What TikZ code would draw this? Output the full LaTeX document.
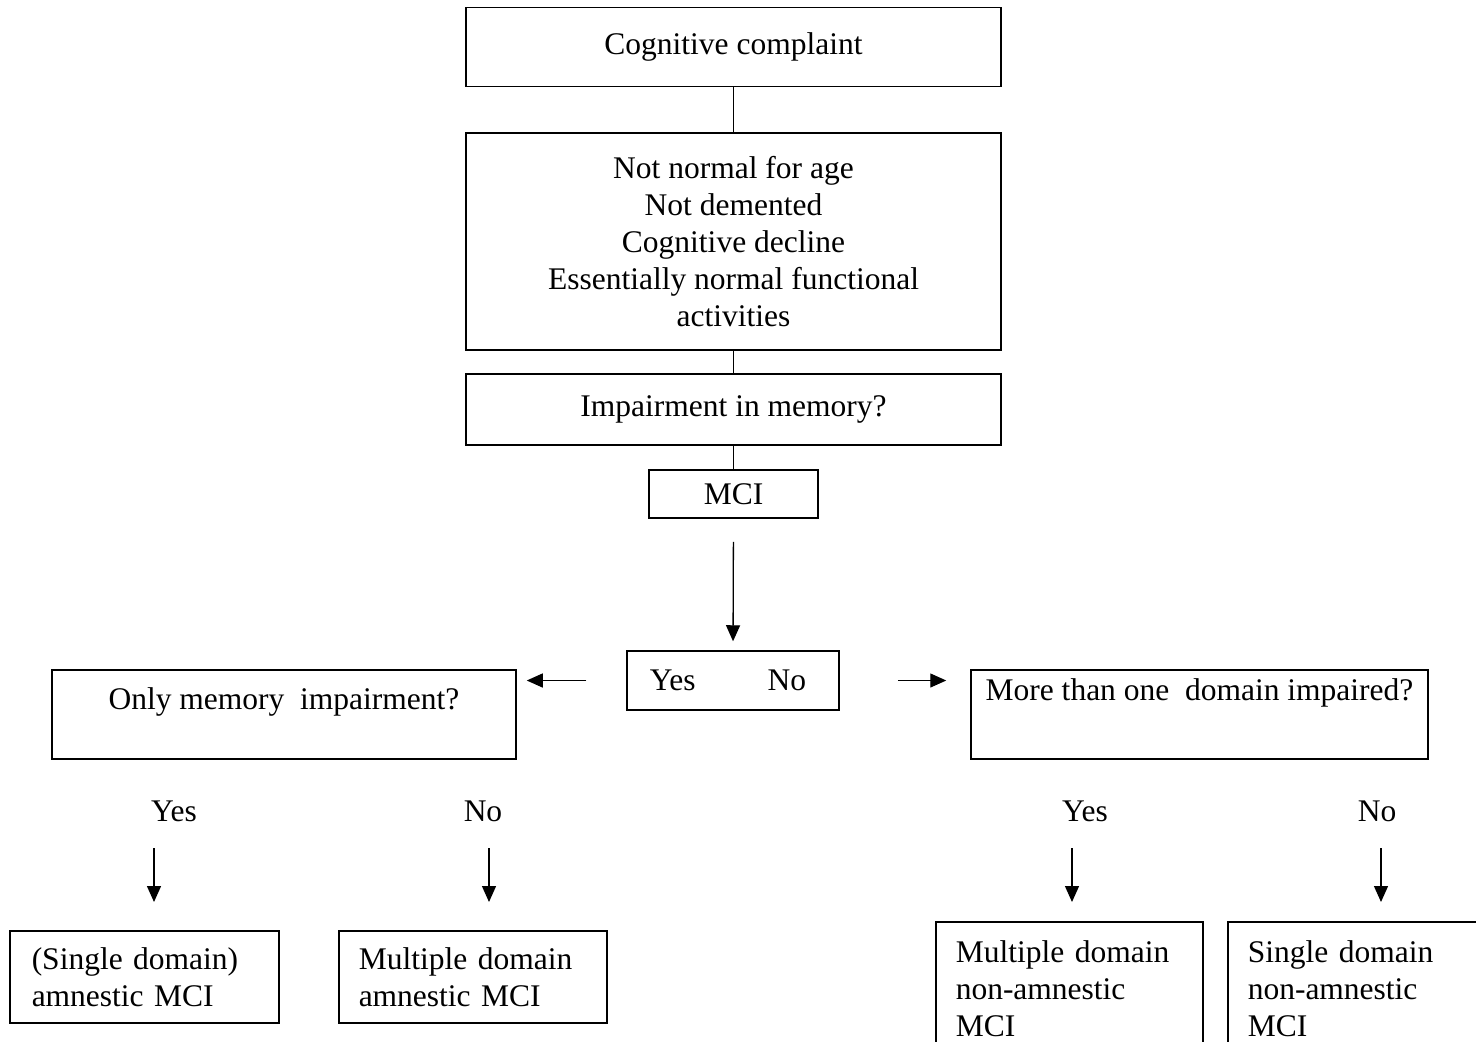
\documentclass[tikz,border=0pt]{standalone}
\usepackage{fontspec}
\setmainfont{Liberation Serif}
\usetikzlibrary{arrows.meta}
\begin{document}
\begin{tikzpicture}[x=1pt,y=-1pt,
  box/.style={draw, line width=1.5pt, inner sep=0pt, font=\fontsize{31.5}{37}\selectfont},
  lbl/.style={inner sep=0pt, font=\fontsize{31.5}{37}\selectfont},
  link/.style={line width=1.3pt},
  arr/.style={line width=1.3pt, -{Triangle[length=16pt,width=14pt]}}]
\useasboundingbox (0,0) rectangle (1476,1042);
\clip (0,0) rectangle (1476,1042);
% top chain
\node[box, minimum width=535, minimum height=79] (b1) at (733.5,47) {Cognitive complaint};
\node[box, minimum width=535, minimum height=217, align=center] (b2) at (733.5,241.5)
  {Not normal for age\\Not demented\\Cognitive decline\\Essentially normal functional\\activities};
\node[box, minimum width=535, minimum height=71] (b3) at (733.5,409.5) {Impairment in memory?};
\node[box, minimum width=169, minimum height=48] (mci) at (733.5,494) {MCI};
\node[box, minimum width=212, minimum height=59] (yn) at (733,680.5) {Yes\hspace{72pt}No\hspace*{10pt}};
\draw[link] (b1.south) -- (b2.north);
\draw[link] (b2.south) -- (b3.north);
\draw[link] (b3.south) -- (mci.north);
\draw[arr, shorten <=23pt, shorten >=9pt] (mci.south) -- (yn.north);
% question boxes
\node[box, anchor=base, minimum width=464, text height=39pt, text depth=50pt] (q1) at (284,709)
  {Only memory\ \ impairment?};
\node[box, anchor=base, minimum width=457, text height=30pt, text depth=59pt] (q2) at (1199.5,700)
  {More than one\ \ domain impaired?};
\draw[arr] ([xshift=-40pt]yn.west) -- ([xshift=10pt]q1.east |- yn.west);
\draw[arr] ([xshift=58pt]yn.east) -- ([xshift=-24pt]q2.west |- yn.east);
% yes/no labels
\node[lbl] (lya) at (174,811) {Yes};
\node[lbl] (lna) at (483,811) {No};
\node[lbl] (lyb) at (1085,811) {Yes};
\node[lbl] (lnb) at (1377,811) {No};
% outcome boxes
\node[box, anchor=north west, minimum width=269, minimum height=92, text width=225pt, inner xsep=22pt, align=left] (ba) at (9,930)
  {(Single domain)\\amnestic MCI};
\node[box, anchor=north west, minimum width=268, minimum height=92, text width=228pt, inner xsep=20pt, align=left] (bb) at (338,930)
  {Multiple domain\\amnestic MCI};
\node[box, anchor=north west, minimum width=267, minimum height=134, text width=227pt, inner xsep=20pt, align=left] (bc) at (935,921)
  {Multiple domain\\non-amnestic\\MCI};
\node[box, anchor=north west, minimum width=280, minimum height=134, text width=240pt, inner xsep=20pt, align=left] (bd) at (1227,921)
  {Single domain\\non-amnestic\\MCI};
% down arrows
\coordinate (ta) at (154,848);
\coordinate (tb) at (489,848);
\coordinate (tc) at (1072,848);
\coordinate (td) at (1381,848);
\draw[arr, shorten >=28pt] (ta) -- (ta |- ba.north);
\draw[arr, shorten >=28pt] (tb) -- (tb |- bb.north);
\draw[arr, shorten >=19pt] (tc) -- (tc |- bc.north);
\draw[arr, shorten >=19pt] (td) -- (td |- bd.north);
\end{tikzpicture}
\end{document}
